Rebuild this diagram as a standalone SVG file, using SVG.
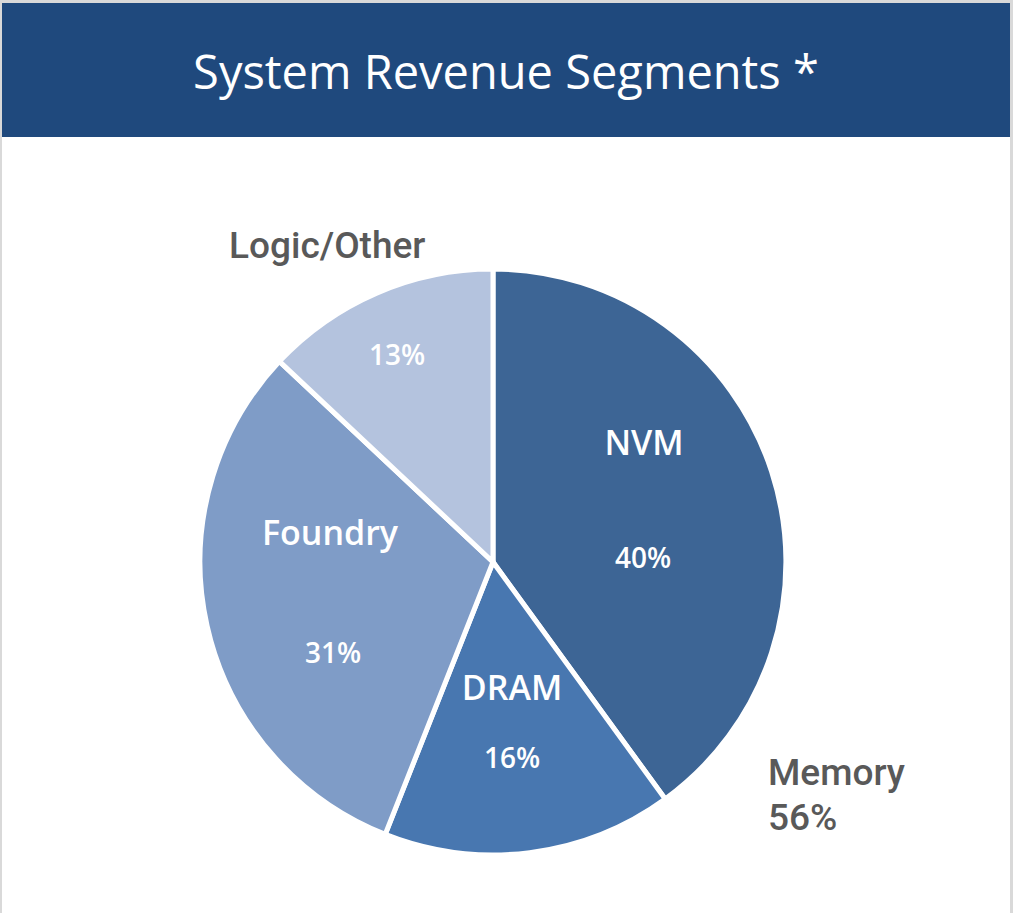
<svg xmlns="http://www.w3.org/2000/svg" width="1013" height="913" viewBox="0 0 1013 913">
<style>
.slice{stroke:#fff;stroke-width:5;stroke-linejoin:miter}
.in{font-family:"Open Sans","Liberation Sans",sans-serif;fill:#fff;text-anchor:middle;font-weight:600}
.out{font-family:Roboto,"Liberation Sans",sans-serif;fill:#595959;font-size:37px;font-weight:500}
</style>
<rect x="0" y="0" width="1013" height="913" fill="#d9d9d9"/>
<rect x="2" y="3" width="1008" height="910" fill="#fff"/>
<g id="header">
<rect x="2" y="3" width="1008" height="134" fill="#1f497d"/>
<text x="506" y="89" font-family="Open Sans, Liberation Sans, sans-serif" font-size="47" font-weight="500" fill="#fff" text-anchor="middle">System Revenue Segments *</text>
</g>
<g id="nvm">
<path class="slice" fill="#3d6595" d="M493,562 L493,269 A293,293 0 0 1 665.2,799 Z"/>
<text class="in" x="644" y="455" font-size="34">NVM</text>
<text class="in" x="643" y="568" font-size="28">40%</text>
</g>
<g id="dram">
<path class="slice" fill="#4877b0" d="M493,562 L665.2,799 A293,293 0 0 1 385.2,834.4 Z"/>
<text class="in" x="512" y="700" font-size="34">DRAM</text>
<text class="in" x="512" y="768" font-size="28">16%</text>
</g>
<g id="foundry">
<path class="slice" fill="#7f9cc7" d="M493,562 L385.2,834.4 A293,293 0 0 1 279.4,361.4 Z"/>
<text class="in" x="330" y="545" font-size="34">Foundry</text>
<text class="in" x="333" y="663" font-size="28">31%</text>
</g>
<g id="logic">
<path class="slice" fill="#b4c3de" d="M493,562 L279.4,361.4 A293,293 0 0 1 493,269 Z"/>
<text class="in" x="397" y="365" font-size="28">13%</text>
</g>
<g id="labels">
<text class="out" x="229" y="258">Logic/Other</text>
<text class="out" x="768" y="785">Memory</text>
<text class="out" x="768" y="830">56%</text>
</g>
<g id="connectors"/>
</svg>
